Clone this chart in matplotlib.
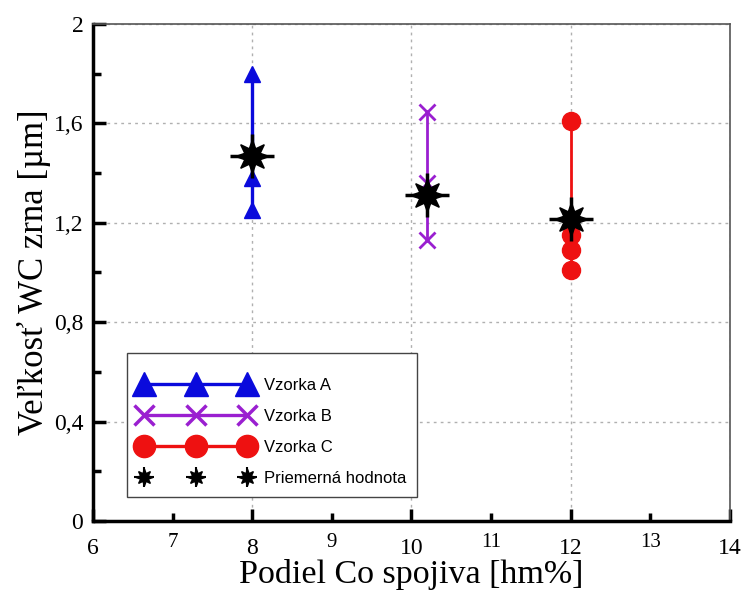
import matplotlib
matplotlib.use("Agg")
import matplotlib.pyplot as plt
from matplotlib.lines import Line2D
from matplotlib.patches import Rectangle
from matplotlib.ticker import FixedLocator, FixedFormatter

# Co binder content [wt%] for each sample
x_a = [8.0, 8.0, 8.0]
x_b = [10.2, 10.2, 10.2]
x_c = [12.0, 12.0, 12.0, 12.0]

# Measured WC grain size [um]
y_a = [1.80, 1.38, 1.25]
y_b = [1.645, 1.36, 1.13]
y_c = [1.61, 1.15, 1.09, 1.01]

# Mean values
x_mean = [8.0, 10.2, 12.0]
y_mean = [1.47, 1.31, 1.215]

labels = ["Vzorka A", "Vzorka B", "Vzorka C", "Priemerná hodnota"]

x_major = [6, 8, 10, 12, 14]
x_minor = [7, 9, 11, 13]
y_major = [0, 0.4, 0.8, 1.2, 1.6, 2.0]
y_major_lbl = ["0", "0,4", "0,8", "1,2", "1,6", "2"]
y_minor = [0.2, 0.6, 1.0, 1.4, 1.8]

c_a = "#0a0adc"
c_b = "#9a1fd0"
c_c = "#ee1111"

fig = plt.figure(figsize=(7.42, 5.94), dpi=100)
ax = fig.add_axes([0.1253, 0.1229, 0.8585, 0.8367])

ax.plot(x_a, y_a, color=c_a, lw=2.4, marker="^", ms=11, zorder=3)
ax.plot(x_b, y_b, color=c_b, lw=2.0, marker="x", ms=12, mew=2, zorder=3)
ax.plot(x_c, y_c, color=c_c, lw=2.0, marker="o", ms=13, zorder=3)

# Mean markers: filled 8-point star with a long cross
ax.plot(x_mean, y_mean, ls="none", marker=(8, 1, 0), ms=24, color="black", zorder=4)
ax.plot(x_mean, y_mean, ls="none", marker="+", ms=31, mew=2.5, color="black", zorder=4)

ax.set_xlim(6, 14)
ax.set_ylim(0, 2)

serif = "Liberation Serif"
ax.xaxis.set_major_locator(FixedLocator(x_major))
ax.xaxis.set_major_formatter(FixedFormatter([str(v) for v in x_major]))
ax.xaxis.set_minor_locator(FixedLocator(x_minor))
ax.xaxis.set_minor_formatter(FixedFormatter([str(v) for v in x_minor]))
ax.yaxis.set_major_locator(FixedLocator(y_major))
ax.yaxis.set_major_formatter(FixedFormatter(y_major_lbl))
ax.yaxis.set_minor_locator(FixedLocator(y_minor))

ax.tick_params(which="major", direction="in", length=9, width=2.5, top=False, right=False,
               labelsize=17, pad=7)
ax.tick_params(axis="x", which="major", pad=12)
ax.tick_params(axis="x", which="minor", direction="in", length=6, width=2.5, top=False,
               labelsize=15, pad=8.5)
ax.tick_params(axis="y", which="minor", direction="in", length=6, width=2.5, right=False)
for lbl in ax.xaxis.get_minorticklabels() + ax.xaxis.get_majorticklabels() + ax.yaxis.get_majorticklabels():
    lbl.set_fontfamily(serif)

ax.grid(True, which="major", color="#b0b0b0", ls=(0, (2, 3)), lw=1.0)
ax.set_axisbelow(True)

for side in ["left", "bottom"]:
    ax.spines[side].set_linewidth(2.5)
    ax.spines[side].set_color("black")
for side in ["top", "right"]:
    ax.spines[side].set_linewidth(1.2)
    ax.spines[side].set_color("#555555")

ax.set_xlabel("Podiel Co spojiva [hm%]", fontfamily=serif, fontsize=24.5, labelpad=0)
ax.set_ylabel("Veľkosť WC zrna [µm]", fontfamily=serif, fontsize=25, labelpad=2)

# Legend box drawn as a separate frame, entries placed inside it
ax.add_patch(Rectangle((0.0534, 0.0483), 0.4552, 0.2897, transform=ax.transAxes,
                       facecolor="white", edgecolor="#444444", lw=1.0, zorder=5))
mean_handle = (
    Line2D([], [], color="black", ls="none", marker=(8, 1, 0), ms=12),
    Line2D([], [], color="black", ls="none", marker="+", ms=15, mew=1.5),
)
handles = [
    Line2D([], [], color=c_a, lw=2.4, marker="^", ms=17),
    Line2D([], [], color=c_b, lw=2.4, marker="x", ms=14, mew=2.5),
    Line2D([], [], color=c_c, lw=2.4, marker="o", ms=16),
    mean_handle,
]
leg = ax.legend(handles, labels, loc="upper left", bbox_to_anchor=(0.0722, 0.2877),
                numpoints=3, handlelength=6.8, handletextpad=0.72, labelspacing=0.95,
                borderpad=0, borderaxespad=0, frameon=False,
                prop={"family": "Liberation Sans", "size": 12})
leg.set_zorder(6)

fig.savefig("out.png", dpi=100)
